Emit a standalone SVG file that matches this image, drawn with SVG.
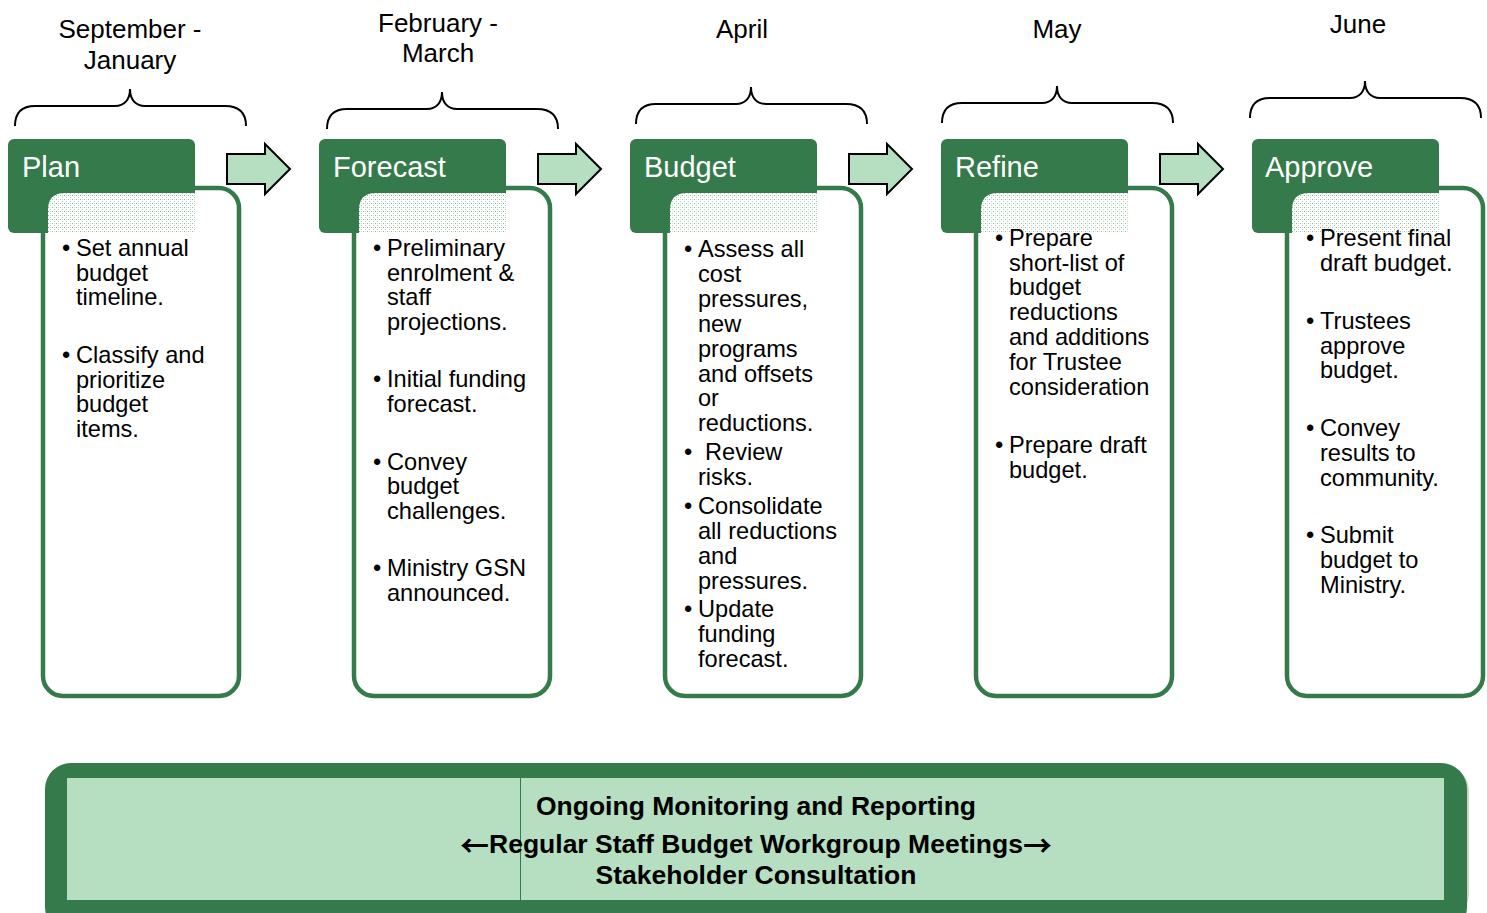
<svg xmlns="http://www.w3.org/2000/svg" xmlns:xlink="http://www.w3.org/1999/xlink" width="1487" height="913" viewBox="0 0 1487 913">
  <style>
    .hdr { fill: #347a4a; }
    .hdr-t { fill: #ffffff; font-family: "Liberation Sans", Arial, sans-serif; font-size: 29px; }
    .box { fill: #ffffff; stroke: #347a4a; stroke-width: 4.5; }
    .tex { fill: url(#dots); }
    .txt { fill: #000000; font-family: "Liberation Sans", Arial, sans-serif; font-size: 23.6px; }
    .per { fill: #000000; font-family: "Liberation Sans", Arial, sans-serif; font-size: 26px; text-anchor: middle; }
    .brace { fill: none; stroke: #000000; stroke-width: 2; }
    .flow { fill: #b6dfc2; stroke: #000000; stroke-width: 2; stroke-linejoin: miter; }
    .ban-t { fill: #000000; font-family: "Liberation Sans", Arial, sans-serif; font-size: 26.5px; font-weight: bold; text-anchor: middle; }
    .arw { font-family: "Noto Sans CJK SC", "DejaVu Sans", sans-serif; font-size: 29px; font-weight: bold; }
  </style>
  <defs>
    <pattern id="dots" width="4" height="4" patternUnits="userSpaceOnUse">
      <rect width="4" height="4" fill="#ffffff"/>
      <rect x="0" y="0" width="1" height="1" fill="#8fbb9b"/>
      <rect x="2" y="2" width="1" height="1" fill="#a9cdb3"/>
      <rect x="2" y="0" width="1" height="1" fill="#d6e8db"/>
    </pattern>
    <path id="brace" class="brace" d="M0,37 C0,24 6,17 20,17 L100,17 C109,17 115,11 115,0 C115,11 121,17 130,17 L210,17 C224,17 231,24 231,37"/>
    <path id="step" class="flow" d="M0,-15 L38,-15 L38,-25 L63,0 L38,25 L38,15 L0,15 Z"/>
    <!-- column frame: header tab, outlined content card, textured overlap -->
    <g id="frame">
      <rect class="box" x="35" y="49" width="196" height="508" rx="20"/>
      <rect class="hdr" x="0" y="0" width="187" height="94" rx="6"/>
      <path class="tex" d="M40,94 L40,71 Q40,54 57,54 L187,54 L187,94 Z"/>
    </g>
  </defs>

  <!-- period labels and braces -->
  <g id="periods">
    <text class="per" x="130" y="38">September -</text>
    <text class="per" x="130" y="69">January</text>
    <text class="per" x="438" y="32">February -</text>
    <text class="per" x="438" y="62">March</text>
    <text class="per" x="742" y="38">April</text>
    <text class="per" x="1057" y="38">May</text>
    <text class="per" x="1358" y="33">June</text>
    <use xlink:href="#brace" x="15" y="89"/>
    <use xlink:href="#brace" x="327" y="92"/>
    <use xlink:href="#brace" x="636" y="87"/>
    <use xlink:href="#brace" x="942" y="86"/>
    <use xlink:href="#brace" x="1250" y="81"/>
  </g>

  <!-- flow arrows between stages -->
  <g id="connectors">
    <use xlink:href="#step" x="227" y="169"/>
    <use xlink:href="#step" x="538" y="169"/>
    <use xlink:href="#step" x="849" y="169"/>
    <use xlink:href="#step" x="1160" y="169"/>
  </g>

  <g id="plan">
    <use xlink:href="#frame" x="8" y="139"/>
    <text class="hdr-t" x="22" y="177">Plan</text>
    <g class="txt">
      <text x="62" y="256">•</text>
      <text x="76" y="256">Set annual</text>
      <text x="76" y="281">budget</text>
      <text x="76" y="305">timeline.</text>
      <text x="62" y="363">•</text>
      <text x="76" y="363">Classify and</text>
      <text x="76" y="388">prioritize</text>
      <text x="76" y="412">budget</text>
      <text x="76" y="437">items.</text>
    </g>
  </g>

  <g id="forecast">
    <use xlink:href="#frame" x="319" y="139"/>
    <text class="hdr-t" x="333" y="177">Forecast</text>
    <g class="txt">
      <text x="373" y="256">•</text>
      <text x="387" y="256">Preliminary</text>
      <text x="387" y="281">enrolment &amp;</text>
      <text x="387" y="305">staff</text>
      <text x="387" y="330">projections.</text>
      <text x="373" y="387">•</text>
      <text x="387" y="387">Initial funding</text>
      <text x="387" y="412">forecast.</text>
      <text x="373" y="470">•</text>
      <text x="387" y="470">Convey</text>
      <text x="387" y="494">budget</text>
      <text x="387" y="519">challenges.</text>
      <text x="373" y="576">•</text>
      <text x="387" y="576">Ministry GSN</text>
      <text x="387" y="601">announced.</text>
    </g>
  </g>

  <g id="budget">
    <use xlink:href="#frame" x="630" y="139"/>
    <text class="hdr-t" x="644" y="177">Budget</text>
    <g class="txt">
      <text x="684" y="257">•</text>
      <text x="698" y="257">Assess all</text>
      <text x="698" y="282">cost</text>
      <text x="698" y="307">pressures,</text>
      <text x="698" y="332">new</text>
      <text x="698" y="357">programs</text>
      <text x="698" y="382">and offsets</text>
      <text x="698" y="406">or</text>
      <text x="698" y="431">reductions.</text>
      <text x="684" y="460">•</text>
      <text x="705" y="460">Review</text>
      <text x="698" y="485">risks.</text>
      <text x="684" y="514">•</text>
      <text x="698" y="514">Consolidate</text>
      <text x="698" y="539">all reductions</text>
      <text x="698" y="564">and</text>
      <text x="698" y="589">pressures.</text>
      <text x="684" y="617">•</text>
      <text x="698" y="617">Update</text>
      <text x="698" y="642">funding</text>
      <text x="698" y="667">forecast.</text>
    </g>
  </g>

  <g id="refine">
    <use xlink:href="#frame" x="941" y="139"/>
    <text class="hdr-t" x="955" y="177">Refine</text>
    <g class="txt">
      <text x="995" y="246">•</text>
      <text x="1009" y="246">Prepare</text>
      <text x="1009" y="271">short-list of</text>
      <text x="1009" y="295">budget</text>
      <text x="1009" y="320">reductions</text>
      <text x="1009" y="345">and additions</text>
      <text x="1009" y="370">for Trustee</text>
      <text x="1009" y="395">consideration</text>
      <text x="995" y="453">•</text>
      <text x="1009" y="453">Prepare draft</text>
      <text x="1009" y="478">budget.</text>
    </g>
  </g>

  <g id="approve">
    <use xlink:href="#frame" x="1252" y="139"/>
    <text class="hdr-t" x="1265" y="177">Approve</text>
    <g class="txt">
      <text x="1306" y="246">•</text>
      <text x="1320" y="246">Present final</text>
      <text x="1320" y="271">draft budget.</text>
      <text x="1306" y="329">•</text>
      <text x="1320" y="329">Trustees</text>
      <text x="1320" y="354">approve</text>
      <text x="1320" y="378">budget.</text>
      <text x="1306" y="436">•</text>
      <text x="1320" y="436">Convey</text>
      <text x="1320" y="461">results to</text>
      <text x="1320" y="486">community.</text>
      <text x="1306" y="543">•</text>
      <text x="1320" y="543">Submit</text>
      <text x="1320" y="568">budget to</text>
      <text x="1320" y="593">Ministry.</text>
    </g>
  </g>

  <!-- ongoing activities banner -->
  <g id="ongoing">
    <rect x="1444" y="772" width="25" height="141" rx="20" fill="#9aa88f" opacity="0.5"/>
    <rect x="45" y="763" width="1422" height="170" rx="26" fill="#347a4a"/>
    <rect x="67" y="778" width="1377" height="122" fill="#b6dfc2"/>
    <line x1="520.5" y1="778" x2="520.5" y2="900" stroke="#347a4a" stroke-width="1"/>
    <text class="ban-t" x="756" y="815">Ongoing Monitoring and Reporting</text>
    <text class="ban-t" x="756" y="853"><tspan class="arw" dy="4">←</tspan><tspan dy="-4">Regular Staff Budget Workgroup Meetings</tspan><tspan class="arw" dy="4">→</tspan></text>
    <text class="ban-t" x="756" y="884">Stakeholder Consultation</text>
  </g>
</svg>
